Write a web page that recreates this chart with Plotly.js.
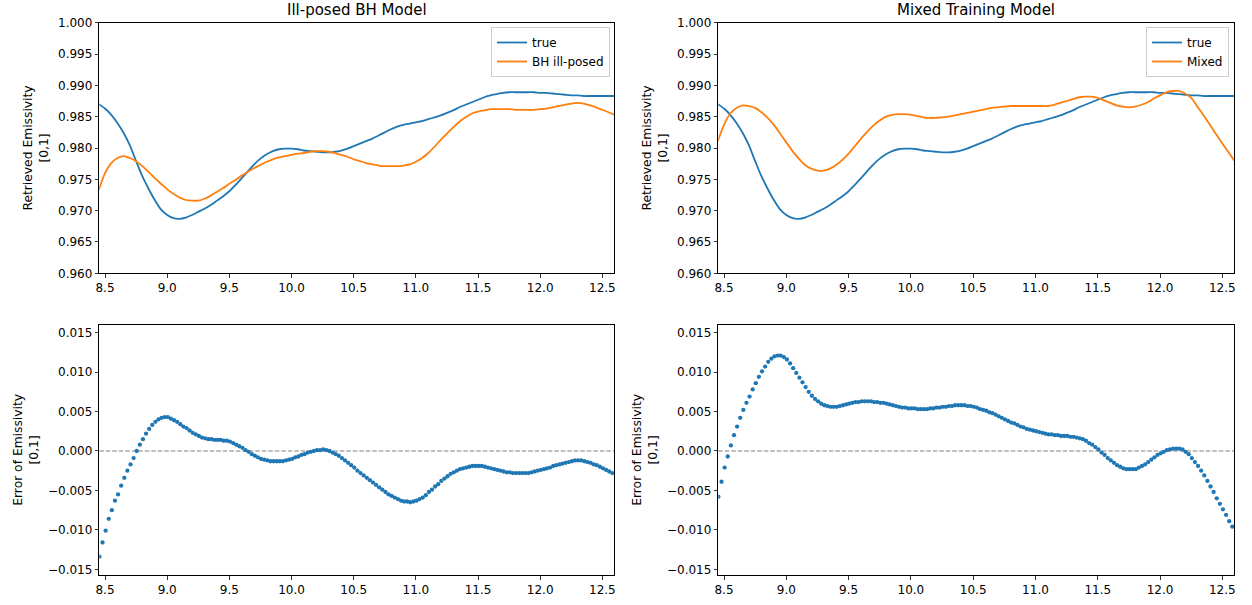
<!DOCTYPE html>
<html>
<head>
<meta charset="utf-8">
<script src="https://cdn.plot.ly/plotly-3.0.1.min.js"></script>
<style>html,body{margin:0;padding:0;background:#fff;}#chart{width:1252px;height:605px;}</style>
</head>
<body>
<div id="chart"></div>
<script>
// ---- data ----
const titles = ["Ill-posed BH Model", "Mixed Training Model"];
const legendNames = ["true", "BH ill-posed", "Mixed"];

const xLine = [8.45,8.50,8.55,8.60,8.65,8.70,8.75,8.80,8.85,8.90,8.95,9.00,9.05,9.10,9.15,9.20,9.25,9.30,9.35,9.40,9.45,9.50,9.55,9.60,9.65,9.70,9.75,9.80,9.85,9.90,9.95,10.00,10.05,10.10,10.15,10.20,10.25,10.30,10.35,10.40,10.45,10.50,10.55,10.60,10.65,10.70,10.75,10.80,10.85,10.90,10.95,11.00,11.05,11.10,11.15,11.20,11.25,11.30,11.35,11.40,11.45,11.50,11.55,11.60,11.65,11.70,11.75,11.80,11.85,11.90,11.95,12.00,12.05,12.10,12.15,12.20,12.25,12.30,12.35,12.40,12.45,12.50,12.55,12.60];

const trueVals = [0.9870,0.9863,0.9853,0.9840,0.9824,0.9804,0.9779,0.9755,0.9735,0.9717,0.9702,0.9693,0.9688,0.9687,0.9689,0.9693,0.9698,0.9703,0.9709,0.9716,0.9723,0.9731,0.9741,0.9752,0.9763,0.9774,0.9783,0.9790,0.9795,0.9798,0.9799,0.9799,0.9798,0.9796,0.9795,0.9794,0.9793,0.9793,0.9794,0.9796,0.9799,0.9803,0.9807,0.9811,0.9815,0.9820,0.9825,0.9830,0.9834,0.9837,0.9839,0.9841,0.9843,0.9846,0.9849,0.9852,0.9856,0.9860,0.9865,0.9869,0.9873,0.9877,0.9881,0.9884,0.9886,0.9888,0.9889,0.9889,0.9889,0.9889,0.9889,0.9888,0.9888,0.9887,0.9886,0.9885,0.9884,0.9884,0.9883,0.9883,0.9883,0.9883,0.9883,0.9883];

const bhVals = [0.9733,0.9760,0.9776,0.9784,0.9787,0.9784,0.9779,0.9771,0.9762,0.9752,0.9743,0.9734,0.9727,0.9721,0.9717,0.9716,0.9716,0.9719,0.9724,0.9730,0.9736,0.9743,0.9749,0.9756,0.9762,0.9768,0.9773,0.9778,0.9782,0.9785,0.9787,0.9789,0.9791,0.9792,0.9794,0.9795,0.9795,0.9794,0.9792,0.9789,0.9786,0.9782,0.9779,0.9776,0.9774,0.9772,0.9771,0.9771,0.9771,0.9772,0.9774,0.9778,0.9784,0.9792,0.9802,0.9813,0.9823,0.9833,0.9842,0.9849,0.9855,0.9858,0.9860,0.9862,0.9862,0.9862,0.9862,0.9861,0.9861,0.9861,0.9861,0.9862,0.9863,0.9865,0.9867,0.9869,0.9871,0.9872,0.9871,0.9868,0.9865,0.9861,0.9857,0.9853];

const mixedVals = [0.9811,0.9837,0.9855,0.9864,0.9868,0.9867,0.9864,0.9857,0.9848,0.9837,0.9823,0.9809,0.9795,0.9783,0.9773,0.9767,0.9764,0.9764,0.9767,0.9773,0.9781,0.9791,0.9803,0.9815,0.9826,0.9836,0.9844,0.9850,0.9853,0.9854,0.9854,0.9853,0.9851,0.9849,0.9848,0.9848,0.9849,0.9850,0.9852,0.9854,0.9856,0.9858,0.9860,0.9862,0.9864,0.9865,0.9866,0.9867,0.9867,0.9867,0.9867,0.9867,0.9867,0.9867,0.9869,0.9872,0.9875,0.9878,0.9881,0.9882,0.9882,0.9880,0.9876,0.9872,0.9868,0.9866,0.9865,0.9866,0.9869,0.9873,0.9879,0.9884,0.9889,0.9891,0.9891,0.9887,0.9880,0.9866,0.9852,0.9837,0.9822,0.9807,0.9793,0.9779];

const xErr = [8.455,8.480,8.505,8.530,8.555,8.580,8.605,8.630,8.655,8.680,8.705,8.730,8.755,8.780,8.805,8.830,8.855,8.880,8.905,8.930,8.955,8.980,9.005,9.030,9.055,9.080,9.105,9.130,9.155,9.180,9.205,9.230,9.255,9.280,9.305,9.330,9.355,9.380,9.405,9.430,9.455,9.480,9.505,9.530,9.555,9.580,9.605,9.630,9.655,9.680,9.705,9.730,9.755,9.780,9.805,9.830,9.855,9.880,9.905,9.930,9.955,9.980,10.005,10.030,10.055,10.080,10.105,10.130,10.155,10.180,10.205,10.230,10.255,10.280,10.305,10.330,10.355,10.380,10.405,10.430,10.455,10.480,10.505,10.530,10.555,10.580,10.605,10.630,10.655,10.680,10.705,10.730,10.755,10.780,10.805,10.830,10.855,10.880,10.905,10.930,10.955,10.980,11.005,11.030,11.055,11.080,11.105,11.130,11.155,11.180,11.205,11.230,11.255,11.280,11.305,11.330,11.355,11.380,11.405,11.430,11.455,11.480,11.505,11.530,11.555,11.580,11.605,11.630,11.655,11.680,11.705,11.730,11.755,11.780,11.805,11.830,11.855,11.880,11.905,11.930,11.955,11.980,12.005,12.030,12.055,12.080,12.105,12.130,12.155,12.180,12.205,12.230,12.255,12.280,12.305,12.330,12.355,12.380,12.405,12.430,12.455,12.480,12.505,12.530,12.555,12.580];

const errBH = [-0.0134,-0.0116,-0.0101,-0.0086,-0.0075,-0.0063,-0.0055,-0.0044,-0.0034,-0.0025,-0.0017,-0.0009,0.0000,0.0008,0.0015,0.0022,0.0028,0.0033,0.0037,0.0040,0.0042,0.0043,0.0043,0.0041,0.0039,0.0037,0.0034,0.0031,0.0029,0.0026,0.0023,0.0021,0.0019,0.0017,0.0016,0.0015,0.0015,0.0014,0.0014,0.0014,0.0013,0.0013,0.0012,0.0010,0.0008,0.0006,0.0004,0.0001,-0.0001,-0.0004,-0.0006,-0.0008,-0.0010,-0.0011,-0.0012,-0.0013,-0.0013,-0.0013,-0.0013,-0.0013,-0.0012,-0.0011,-0.0010,-0.0008,-0.0007,-0.0005,-0.0004,-0.0002,-0.0001,0.0000,0.0001,0.0001,0.0002,0.0001,0.0000,-0.0002,-0.0004,-0.0006,-0.0009,-0.0012,-0.0015,-0.0018,-0.0021,-0.0025,-0.0028,-0.0031,-0.0034,-0.0037,-0.0040,-0.0043,-0.0046,-0.0049,-0.0052,-0.0055,-0.0057,-0.0059,-0.0061,-0.0063,-0.0064,-0.0064,-0.0065,-0.0064,-0.0063,-0.0061,-0.0059,-0.0056,-0.0052,-0.0049,-0.0045,-0.0042,-0.0038,-0.0035,-0.0032,-0.0029,-0.0027,-0.0025,-0.0023,-0.0022,-0.0021,-0.0020,-0.0019,-0.0019,-0.0019,-0.0019,-0.0020,-0.0021,-0.0022,-0.0023,-0.0024,-0.0025,-0.0026,-0.0027,-0.0027,-0.0028,-0.0028,-0.0028,-0.0028,-0.0028,-0.0028,-0.0027,-0.0026,-0.0025,-0.0024,-0.0023,-0.0022,-0.0021,-0.0019,-0.0018,-0.0017,-0.0016,-0.0015,-0.0014,-0.0013,-0.0012,-0.0012,-0.0012,-0.0013,-0.0014,-0.0015,-0.0017,-0.0018,-0.0020,-0.0022,-0.0024,-0.0026,-0.0028];

const errMixed = [-0.0058,-0.0039,-0.0021,-0.0007,0.0007,0.0020,0.0031,0.0042,0.0052,0.0061,0.0069,0.0078,0.0086,0.0094,0.0101,0.0107,0.0113,0.0117,0.0120,0.0121,0.0121,0.0119,0.0116,0.0111,0.0105,0.0099,0.0093,0.0087,0.0081,0.0075,0.0070,0.0066,0.0063,0.0060,0.0058,0.0057,0.0056,0.0056,0.0056,0.0057,0.0058,0.0059,0.0060,0.0061,0.0062,0.0062,0.0063,0.0063,0.0063,0.0063,0.0062,0.0062,0.0061,0.0061,0.0060,0.0059,0.0058,0.0057,0.0056,0.0055,0.0055,0.0054,0.0054,0.0054,0.0053,0.0053,0.0053,0.0053,0.0054,0.0054,0.0055,0.0055,0.0056,0.0056,0.0057,0.0057,0.0058,0.0058,0.0058,0.0058,0.0057,0.0057,0.0056,0.0055,0.0053,0.0052,0.0051,0.0049,0.0048,0.0046,0.0044,0.0042,0.0040,0.0038,0.0036,0.0035,0.0033,0.0031,0.0030,0.0028,0.0027,0.0026,0.0025,0.0024,0.0023,0.0022,0.0021,0.0021,0.0020,0.0020,0.0019,0.0019,0.0019,0.0018,0.0018,0.0017,0.0016,0.0015,0.0013,0.0010,0.0008,0.0005,0.0002,-0.0002,-0.0005,-0.0009,-0.0012,-0.0015,-0.0018,-0.0020,-0.0022,-0.0023,-0.0023,-0.0023,-0.0023,-0.0021,-0.0019,-0.0017,-0.0014,-0.0011,-0.0008,-0.0005,-0.0003,-0.0001,0.0001,0.0002,0.0003,0.0003,0.0003,0.0002,-0.0001,-0.0004,-0.0009,-0.0014,-0.0019,-0.0025,-0.0031,-0.0038,-0.0045,-0.0052,-0.0060,-0.0067,-0.0074,-0.0081,-0.0089,-0.0096];

// ---- styling / layout ----
const W = 1252, H = 605;
const BLUE = '#1f77b4', ORANGE = '#ff7f0e';
const FONT = 'DejaVu Sans, sans-serif';

const dom = {
  xL: [99.3 / W, 614.3 / W],
  xR: [718.3 / W, 1234.3 / W],
  yT: [1 - 273.3 / H, 1 - 22.7 / H],
  yB: [1 - 575 / H, 1 - 324.7 / H]
};

const lineStyle = (c) => ({color: c, width: 1.8, shape: 'spline', smoothing: 0.8});

const traces = [
  {x: xLine, y: trueVals, type: 'scatter', mode: 'lines', name: legendNames[0], line: lineStyle(BLUE), xaxis: 'x', yaxis: 'y', legend: 'legend'},
  {x: xLine, y: bhVals, type: 'scatter', mode: 'lines', name: legendNames[1], line: lineStyle(ORANGE), xaxis: 'x', yaxis: 'y', legend: 'legend'},
  {x: xLine, y: trueVals, type: 'scatter', mode: 'lines', name: legendNames[0], line: lineStyle(BLUE), xaxis: 'x2', yaxis: 'y2', legend: 'legend2'},
  {x: xLine, y: mixedVals, type: 'scatter', mode: 'lines', name: legendNames[2], line: lineStyle(ORANGE), xaxis: 'x2', yaxis: 'y2', legend: 'legend2'},
  {x: xErr, y: errBH, type: 'scatter', mode: 'markers', marker: {color: BLUE, size: 4.3}, xaxis: 'x3', yaxis: 'y3', showlegend: false},
  {x: xErr, y: errMixed, type: 'scatter', mode: 'markers', marker: {color: BLUE, size: 4.3}, xaxis: 'x4', yaxis: 'y4', showlegend: false}
];

function xax(domain, anchor) {
  return {domain, anchor, range: [8.454, 12.596], tick0: 8.5, dtick: 0.5, tickformat: '.1f',
    ticks: 'outside', ticklen: 3.5, tickwidth: 0.8, tickcolor: '#000',
    showline: true, linecolor: '#000', linewidth: 1, mirror: true,
    showgrid: false, zeroline: false, tickfont: {size: 12, color: '#000', family: FONT}};
}
function yax(domain, anchor, range, title) {
  return {domain, anchor, range, tick0: 0, dtick: 0.005, tickformat: '.3f',
    ticks: 'outside', ticklen: 3.5, tickwidth: 0.8, tickcolor: '#000',
    showline: true, linecolor: '#000', linewidth: 1, mirror: true,
    showgrid: false, zeroline: false, tickfont: {size: 12, color: '#000', family: FONT},
    title: {text: title, font: {size: 12.3, color: '#000', family: FONT}, standoff: 6}};
}

const yTop = [0.96, 1.0];
const yBot = [-0.01572, 0.01601];
const topTitle = 'Retrieved Emissivity<br>[0,1]';
const botTitle = 'Error of Emissivity<br>[0,1]';

const legendBase = {
  bgcolor: 'rgba(255,255,255,0.85)', bordercolor: '#cccccc', borderwidth: 1,
  font: {size: 12, color: '#000', family: FONT}, xanchor: 'right', yanchor: 'top',
  itemwidth: 30, tracegroupgap: 0
};

const layout = {
  width: W, height: H,
  margin: {l: 0, r: 0, t: 0, b: 0},
  paper_bgcolor: '#fff', plot_bgcolor: '#fff',
  font: {family: FONT, color: '#000'},
  showlegend: true,
  xaxis: xax(dom.xL, 'y'),
  yaxis: yax(dom.yT, 'x', yTop, topTitle),
  xaxis2: xax(dom.xR, 'y2'),
  yaxis2: yax(dom.yT, 'x2', yTop, topTitle),
  xaxis3: xax(dom.xL, 'y3'),
  yaxis3: yax(dom.yB, 'x3', yBot, botTitle),
  xaxis4: xax(dom.xR, 'y4'),
  yaxis4: yax(dom.yB, 'x4', yBot, botTitle),
  legend: Object.assign({}, legendBase, {x: 610 / W, y: 1 - 27 / H}),
  legend2: Object.assign({}, legendBase, {x: 1229 / W, y: 1 - 27 / H}),
  annotations: [
    {text: titles[0], xref: 'paper', yref: 'paper', x: (dom.xL[0] + dom.xL[1]) / 2, y: 1 - 10 / H, xanchor: 'center', yanchor: 'middle', showarrow: false, font: {size: 15, color: '#000', family: FONT}},
    {text: titles[1], xref: 'paper', yref: 'paper', x: (dom.xR[0] + dom.xR[1]) / 2, y: 1 - 10 / H, xanchor: 'center', yanchor: 'middle', showarrow: false, font: {size: 15, color: '#000', family: FONT}}
  ],
  shapes: [
    {type: 'line', xref: 'x3 domain', yref: 'y3', x0: 0, x1: 1, y0: 0, y1: 0, line: {color: '#7f7f7f', width: 1.1, dash: '4.5px,2px'}, layer: 'below'},
    {type: 'line', xref: 'x4 domain', yref: 'y4', x0: 0, x1: 1, y0: 0, y1: 0, line: {color: '#7f7f7f', width: 1.1, dash: '4.5px,2px'}, layer: 'below'}
  ]
};

Plotly.newPlot('chart', traces, layout, {displayModeBar: false, staticPlot: true});
</script>
</body>
</html>
